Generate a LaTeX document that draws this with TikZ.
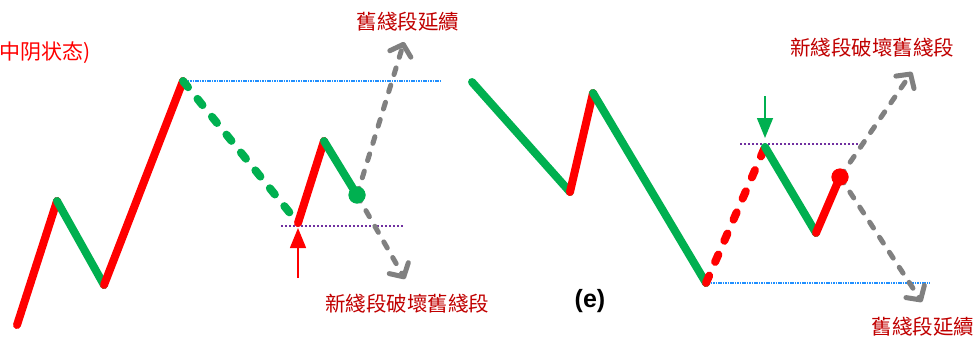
\documentclass[tikz,border=0pt]{standalone}
\usepackage{fontspec}
\setmainfont{Liberation Sans}
\newfontfamily\tcfont{Noto Sans CJK TC}
\newfontfamily\scfont{Noto Sans CJK SC}
\usetikzlibrary{arrows.meta}
\definecolor{kred}{HTML}{FF0000}
\definecolor{kgreen}{HTML}{00B050}
\definecolor{kgray}{HTML}{808080}
\definecolor{kblue}{HTML}{1F8FFF}
\definecolor{kpurple}{HTML}{7030A0}
\definecolor{klabel}{HTML}{C00000}
\tikzset{
  upseg/.style={draw=kred, line width=8pt, line cap=round},
  downseg/.style={draw=kgreen, line width=8pt, line cap=round},
  dashseg/.style={line width=8pt, line cap=round, dash pattern=on 8pt off 15pt},
  grayarrow/.style={draw=kgray, line width=5pt, line cap=round, dash pattern=on 7pt off 11pt,
    -{Straight Barb[length=10pt,width=22pt,line cap=round,line join=round]}},
  bluedot/.style={draw=kblue, line width=1.1pt, dash pattern=on 1.6pt off 0.8pt},
  purpledot/.style={draw=kpurple, line width=1.2pt, dash pattern=on 2pt off 2pt},
  lbl/.style={text=klabel, font=\tcfont\fontsize{20.5}{24}\selectfont, inner sep=0pt},
  pointer/.style={line width=1.5pt, -{Triangle[length=20pt,width=16pt]}},
  dotmark/.style={circle, inner sep=0pt, minimum size=17pt},
}
\begin{document}
\begin{tikzpicture}[x=1pt,y=-1pt]
\useasboundingbox (0,0) rectangle (979,338);
% ---------- left chart ----------
\coordinate (a0) at (17,325);
\coordinate (a1) at (57,201);
\coordinate (a2) at (104,285);
\coordinate (a3) at (183,81);
\coordinate (a4) at (298,223);
\coordinate (a5) at (324,141);
\node[dotmark, fill=kgreen] (a6) at (357,195) {};
\coordinate (aup) at (404,42);
\coordinate (adn) at (405,279);
\coordinate (ab1) at (440,81);
\coordinate (ap0) at (281,226);
\coordinate (ap1) at (403,226);
\coordinate (ar0) at (298,278);
\coordinate (ar1) at (298,228);

\draw[bluedot] (a3) -- (ab1);
\draw[purpledot] (ap0) -- (ap1);
\draw[upseg] (a0) -- (a1);
\draw[downseg] (a1) -- (a2);
\draw[upseg] (a2) -- (a3);
\draw[dashseg, draw=kgreen] (a3) -- (a4);
\draw[upseg] (a4) -- (a5);
\draw[downseg] (a5) -- (a6.center);
\draw[grayarrow] (a6.center) -- (aup);
\draw[grayarrow] (a6.center) -- (adn);
\node[dotmark, fill=kgreen] at (a6) {};
\draw[pointer, draw=kred, fill=kred] (ar0) -- (ar1);

\node[lbl] (l1) at (408,22) {舊綫段延續};
\node[lbl] (l2) at (407,304) {新綫段破壞舊綫段};
\node[text=kred, font=\scfont\fontsize{21}{24}\selectfont, inner sep=0pt, anchor=east] (st) at (91,53) {中阴状态)};

% ---------- right chart ----------
\coordinate (b0) at (472,82);
\coordinate (b1) at (570,192);
\coordinate (b2) at (593,93);
\coordinate (b3) at (706,283);
\coordinate (b4) at (765,147);
\coordinate (b5) at (816,233);
\node[dotmark, fill=kred] (b6) at (840,177) {};
\coordinate (bup) at (912,72);
\coordinate (bdn) at (922,302);
\coordinate (bb1) at (930,283);
\coordinate (bp0) at (740,144);
\coordinate (bp1) at (862,144);
\coordinate (bg0) at (765,96);
\coordinate (bg1) at (765,138);

\draw[bluedot] (b3) -- (bb1);
\draw[purpledot] (bp0) -- (bp1);
\draw[downseg] (b0) -- (b1);
\draw[upseg] (b1) -- (b2);
\draw[downseg] (b2) -- (b3);
\draw[dashseg, draw=kred] (b3) -- (b4);
\draw[downseg] (b4) -- (b5);
\draw[upseg] (b5) -- (b6.center);
\draw[grayarrow] (b6.center) -- (bup);
\draw[grayarrow] (b6.center) -- (bdn);
\node[dotmark, fill=kred] at (b6) {};
\draw[pointer, draw=kgreen, fill=kgreen] (bg0) -- (bg1);

\node[lbl] (r1) at (872,48) {新綫段破壞舊綫段};
\node[lbl] (r2) at (923,327) {舊綫段延續};
\node[font=\bfseries\fontsize{25}{28}\selectfont, inner sep=0pt] (e) at (590,301) {(e)};
\end{tikzpicture}
\end{document}
